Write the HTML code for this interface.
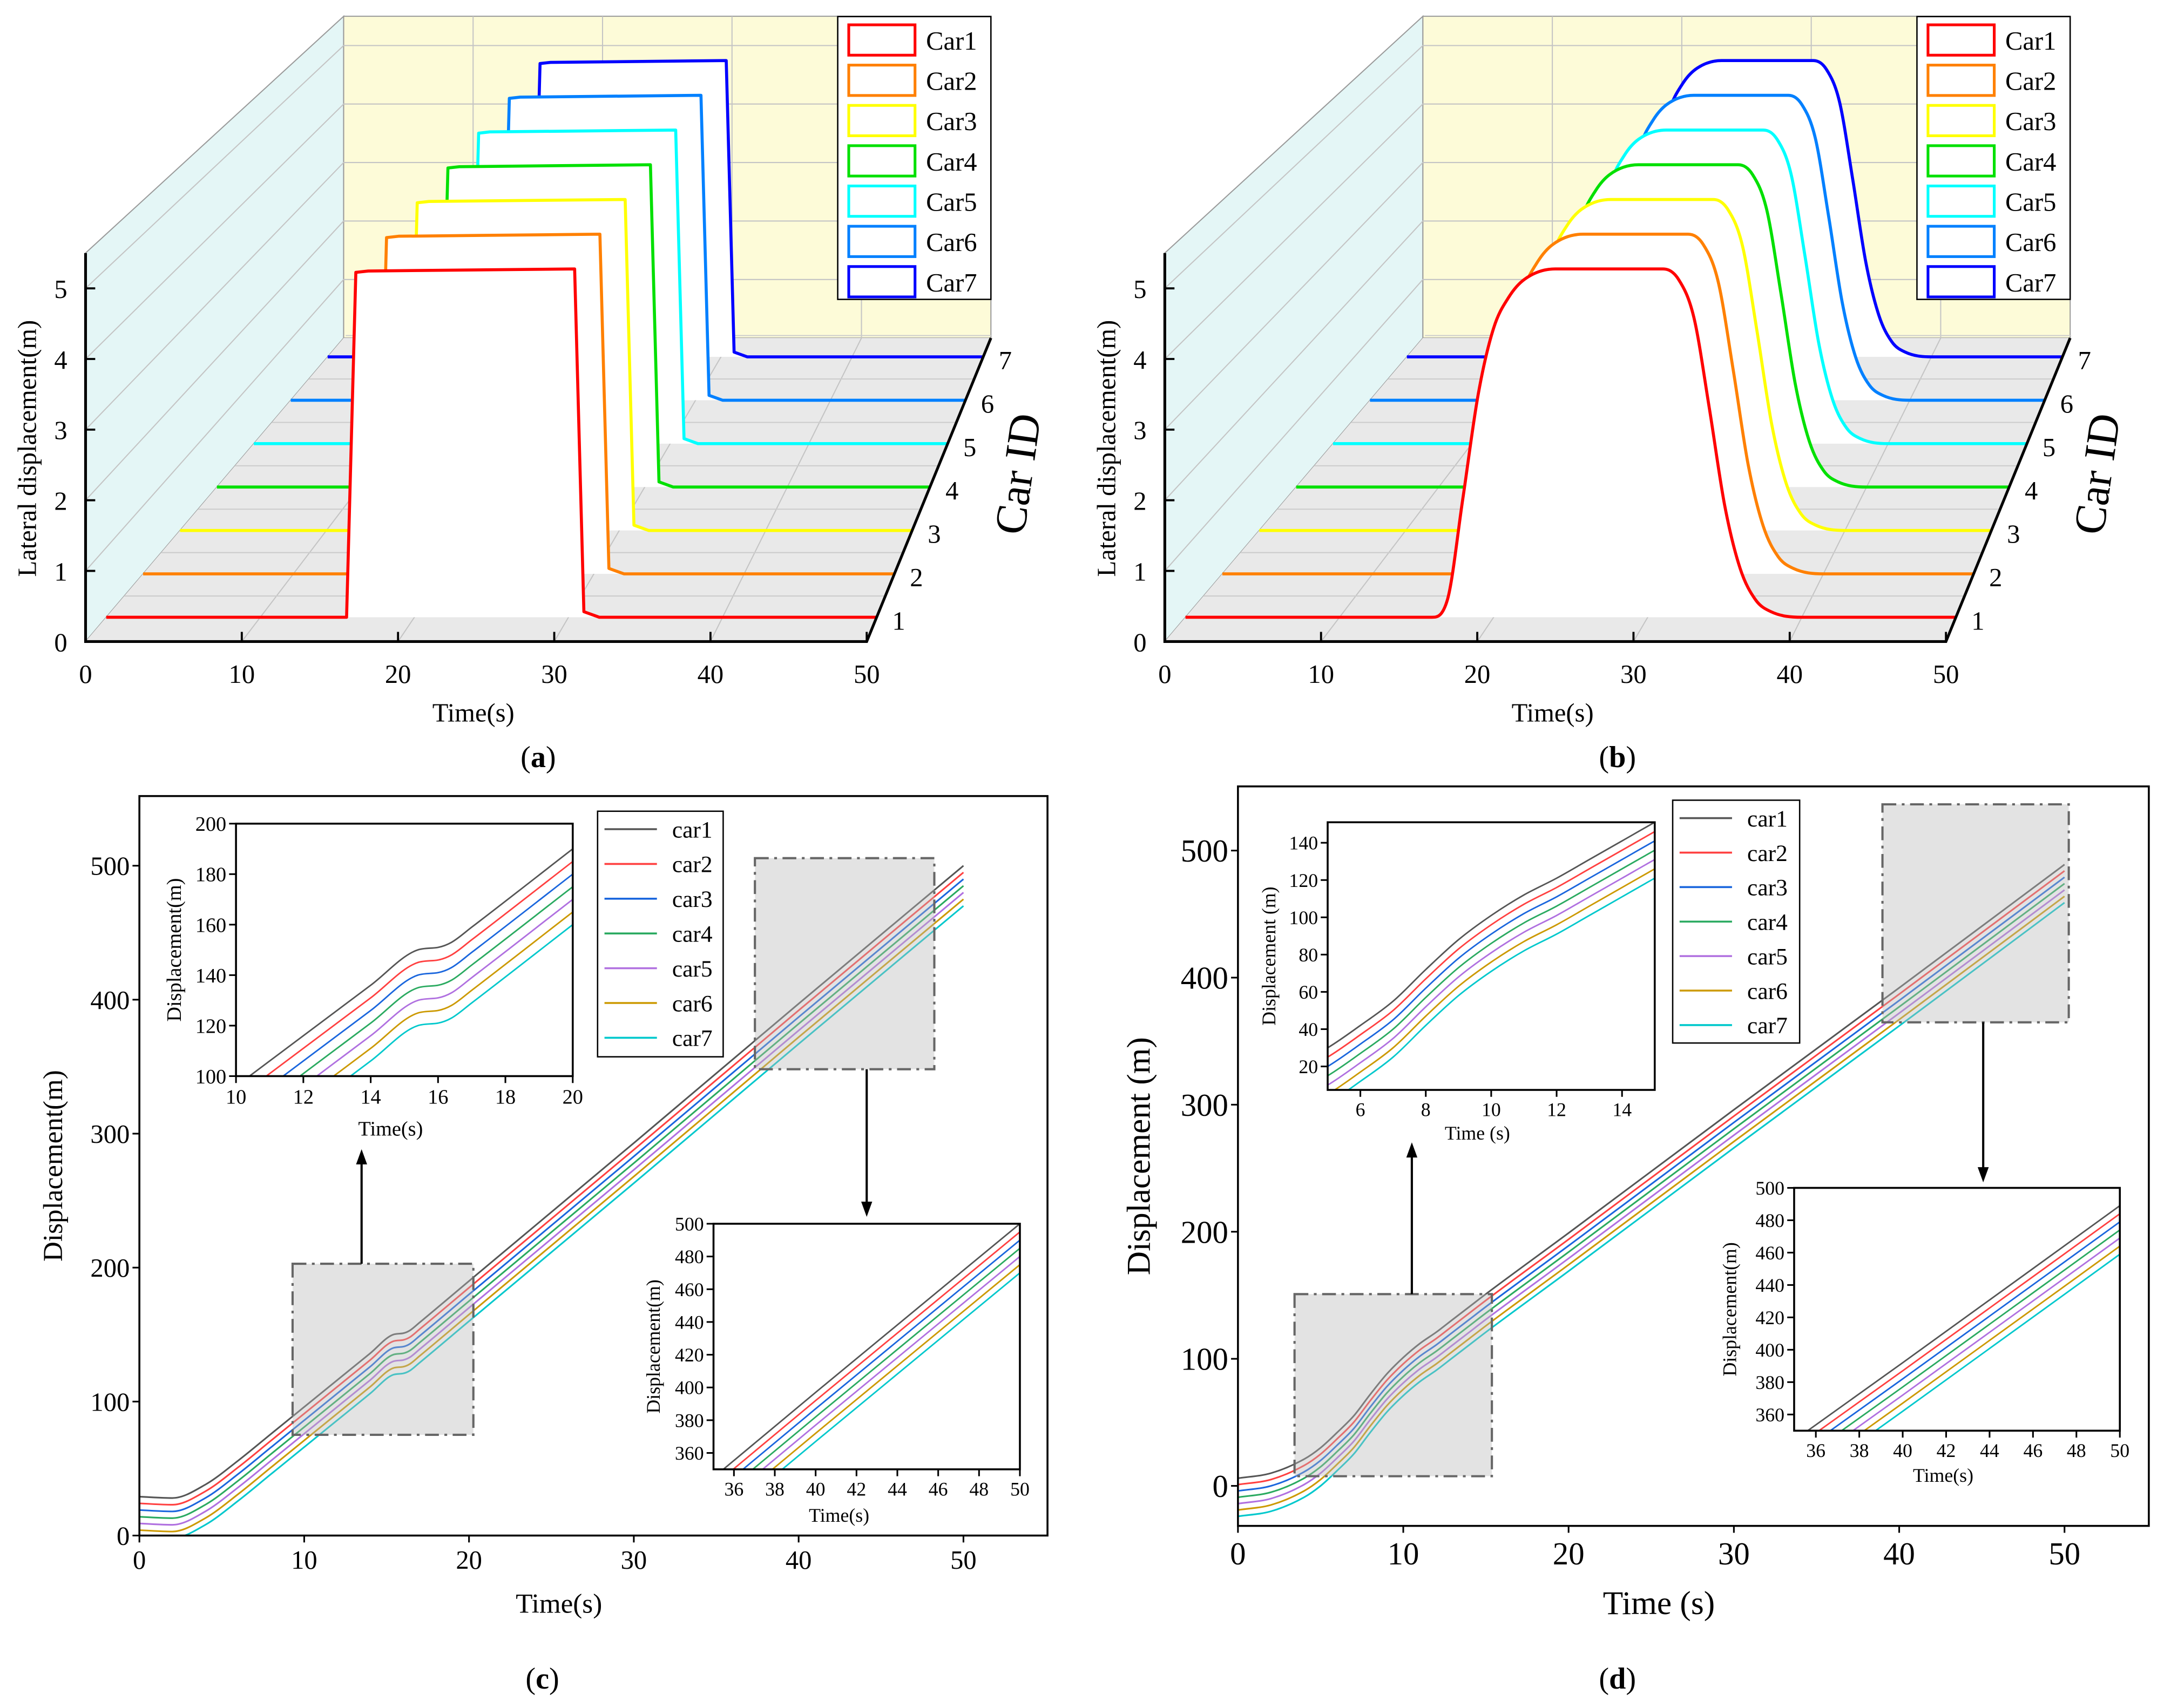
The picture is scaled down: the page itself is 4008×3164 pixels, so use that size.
<!DOCTYPE html>
<html><head><meta charset="utf-8"><style>
html,body{margin:0;padding:0;background:#fff;overflow:hidden;width:4008px;height:3164px;}
svg{display:block;}
text{font-family:"Liberation Serif",serif;}
</style></head><body>
<svg id="chart" xmlns="http://www.w3.org/2000/svg" width="4008" height="3164" viewBox="0 0 1568 1238" preserveAspectRatio="none">
<rect x="0" y="0" width="1568" height="1238" fill="#fff"/>
</svg>
<script>
// ---------- DATA ----------
const carIds = [1,2,3,4,5,6,7];
const carNamesUpper = ['Car1','Car2','Car3','Car4','Car5','Car6','Car7'];
const carNamesLower = ['car1','car2','car3','car4','car5','car6','car7'];
const timeTicks3D = [0,10,20,30,40,50];
const zTicks3D = [0,1,2,3,4,5];
// panel (a) lateral displacement (step manoeuvre)
const tA = [0,15.6,16.2,17,30.4,31.0,32,50];
const zA = [0,0,4.95,4.97,5.0,0.08,0,0];
// panel (b) lateral displacement (smooth manoeuvre)
const tB = [0,16,17,18,19,20,21,22,24,31,32,33,34,35,36,37,38,40,50];
const zB = [0,0,0.25,1.7,3.2,4.15,4.6,4.85,5.0,5.0,4.85,4.3,3.0,1.6,0.7,0.25,0.08,0,0];
// panel (c) longitudinal displacement
const tC = [0,2,4,6,8,10,12,14,15.4,16,16.4,17,20,30,40,50];
const c1 = [29,28,38,56,76,96,116,136,150,151,153,159,190,293,397,500];
const c2 = [24,23,33,51,71,91,111,131,145,146,148,154,185,288,392,495];
const c3 = [19,18,28,46,66,86,106,126,140,141,143,149,180,283,387,490];
const c4 = [14,13,23,41,61,81,101,121,135,136,138,144,175,278,382,485];
const c5 = [9,8,18,36,56,76,96,116,130,131,133,139,170,273,377,480];
const c6 = [4,3,13,31,51,71,91,111,125,126,128,134,165,268,372,475];
const c7 = [-1,-2,8,26,46,66,86,106,120,121,123,129,160,263,367,470];
const seriesC = [c1,c2,c3,c4,c5,c6,c7];
// panel (d) longitudinal displacement
const tD = [0,2,4,5,6,7,8,9,10,11,12,13,14,15,20,30,40,50];
const d1 = [6,10,21,30,42,55,72,88,101,112,121,131,141,151,199,296,392,489];
const d2 = [1,5,16,25,37,50,67,83,96,107,116,126,136,146,194,291,387,484];
const d3 = [-4,0,11,20,32,45,62,78,91,102,111,121,131,141,189,286,382,479];
const d4 = [-9,-5,6,15,27,40,57,73,86,97,106,116,126,136,184,281,377,474];
const d5 = [-14,-10,1,10,22,35,52,68,81,92,101,111,121,131,179,276,372,469];
const d6 = [-19,-15,-4,5,17,30,47,63,76,87,96,106,116,126,174,271,367,464];
const d7 = [-24,-20,-9,0,12,25,42,58,71,82,91,101,111,121,169,266,362,459];
const seriesD = [d1,d2,d3,d4,d5,d6,d7];
const ticksMainX = [0,10,20,30,40,50];
const ticksMainY = [0,100,200,300,400,500];
const ticksInsetC1X = [10,12,14,16,18,20];
const ticksInsetC1Y = [100,120,140,160,180,200];
const ticksInsetEndX = [36,38,40,42,44,46,48,50];
const ticksInsetEndY = [360,380,400,420,440,460,480,500];
const ticksInsetD1X = [6,8,10,12,14];
const ticksInsetD1Y = [20,40,60,80,100,120,140];

const colors3D = ['#ff0000','#ff8000','#ffff00','#00e000','#00ffff','#0080ff','#0000ff'];
const colors2D = ['#555555','#ff4040','#1a66dd','#2aaa60','#b070e0','#cc9900','#00c8cc'];

// ---------- HELPERS ----------
const NS='http://www.w3.org/2000/svg';
const svg=document.getElementById('chart');
function mk(tag, attrs, parent){const e=document.createElementNS(NS,tag);for(const k in attrs)e.setAttribute(k,attrs[k]);(parent||svg).appendChild(e);return e;}
function txt(s,x,y,size,parent,extra){const e=mk('text',Object.assign({x:x,y:y,'font-size':size,'text-anchor':'middle',fill:'#000'},extra||{}),parent);e.textContent=s;return e;}
function smooth(p){
  const n=p.length;const m=[],t=[];
  for(let i=0;i<n-1;i++){const dx=p[i+1][0]-p[i][0];m.push(dx===0?0:(p[i+1][1]-p[i][1])/dx);}
  t[0]=m[0];t[n-1]=m[n-2];
  for(let i=1;i<n-1;i++){t[i]=(m[i-1]*m[i]<=0)?0:(m[i-1]+m[i])/2;}
  for(let i=0;i<n-1;i++){
    if(m[i]===0){t[i]=0;t[i+1]=0;continue;}
    const a=t[i]/m[i],b=t[i+1]/m[i],s=a*a+b*b;
    if(s>9){const k=3/Math.sqrt(s);t[i]=k*a*m[i];t[i+1]=k*b*m[i];}
  }
  let d='M'+p[0][0].toFixed(2)+','+p[0][1].toFixed(2);
  for(let i=0;i<n-1;i++){
    const dx=(p[i+1][0]-p[i][0])/3;
    d+=' C'+(p[i][0]+dx).toFixed(2)+','+(p[i][1]+t[i]*dx).toFixed(2)+' '+(p[i+1][0]-dx).toFixed(2)+','+(p[i+1][1]-t[i+1]*dx).toFixed(2)+' '+p[i+1][0].toFixed(2)+','+p[i+1][1].toFixed(2);
  }
  return d;
}
function poly(p){return 'M'+p.map(q=>q[0].toFixed(2)+','+q[1].toFixed(2)).join(' L');}

// ---------- 3D PANELS ----------
function depthOf(id){return 0.08+(id-1)*0.143;}
function draw3D(ox, times, zs, isSmooth, tag){
  const g=mk('g',{});
  
  
  const P=(t,d,z)=>{const x0=62+187*d+ox,w=566-97*d,s=51.2-8.8*d,yb=465-220*d;return [x0+t/50*w,yb-z*s];};
  const lw=mk('path',{d:poly([P(0,0,0),P(0,0,5.5),P(0,1,5.5),P(0,1,0)])+'Z',fill:'#e4f6f6',stroke:'#9a9a9a','stroke-width':0.8},g);
  
  
  const bw=mk('path',{d:poly([P(0,1,0),P(0,1,5.5),P(50,1,5.5),P(50,1,0)])+'Z',fill:'#fdfbd8',stroke:'#9a9a9a','stroke-width':0.8},g);
  
  
  const fl=mk('path',{d:poly([P(0,0,0),P(50,0,0),P(50,1,0),P(0,1,0)])+'Z',fill:'#e9e9e9'},g);
  
  
  for(const t of timeTicks3D.slice(1,5)){
    const l=mk('path',{d:poly([P(t,0,0),P(t,1,0),P(t,1,5.5)]),fill:'none',stroke:'#c4c4c4','stroke-width':0.8},g);
    
    
  }
  for(const z of zTicks3D.slice(1)){
    const l=mk('path',{d:poly([P(0,0,z),P(0,1,z),P(50,1,z)]),fill:'none',stroke:'#c4c4c4','stroke-width':0.8},g);
    
    
  }
  for(const id of carIds){
    const d=depthOf(id)+0.07;
    const l=mk('path',{d:poly([P(0,d,0),P(50,d,0)]),fill:'none',stroke:'#cccccc','stroke-width':0.8},g);
    
    
  }
  for(let i=carIds.length-1;i>=0;i--){
    const d=depthOf(carIds[i]);
    const pts=times.map((t,j)=>P(t,d,zs[j]));
    const path=isSmooth?smooth(pts):poly(pts);
    const end=P(50,d,0),st=P(0,d,0);
    const f=mk('path',{d:path+' L'+end[0]+','+end[1]+' L'+st[0]+','+st[1]+'Z',fill:'#fff',stroke:'none'},g);
    
    
    const s=mk('path',{d:path,fill:'none',stroke:colors3D[i],'stroke-width':2.2,'stroke-linejoin':'round'},g);
    
    
  }
  const ax=mk('path',{d:poly([P(0,0,5.5),P(0,0,0),P(50,0,0),P(50,1,0)]),fill:'none',stroke:'#000','stroke-width':2},g);
  
  
  for(const t of timeTicks3D){
    const p=P(t,0,0);
    const tk=mk('line',{x1:p[0],y1:p[1],x2:p[0],y2:p[1]-7,stroke:'#000','stroke-width':1.5},g);
    
    
    const lb=txt(String(t),p[0],p[1]+30,19,g);
    
    
  }
  for(const z of zTicks3D){
    const p=P(0,0,z);
    const tk=mk('line',{x1:p[0],y1:p[1],x2:p[0]+7,y2:p[1],stroke:'#000','stroke-width':1.5},g);
    
    
    const lb=txt(String(z),p[0]-18,p[1]+7,19,g);
    
    
  }
  for(const id of carIds){
    const p=P(50,depthOf(id),0);
    const lb=txt(String(id),p[0]+16,p[1]+9,19,g);
    
    
  }
  const yl=txt('Lateral displacement(m)',0,0,19,g,{transform:'translate('+(26+ox)+',325) rotate(-90)'});
  
  
  const xl=txt('Time(s)',343+ox,523,19,g);
  
  
  const cl=txt('Car ID',0,0,32,g,{transform:'translate('+(748+ox)+',345) rotate(-82)'});
  
  
  const lg=mk('g',{},g);
  
  
  const lb=mk('rect',{x:607+ox,y:12,width:111,height:205,fill:'#fff',stroke:'#000','stroke-width':1},lg);
  
  
  carNamesUpper.forEach((n,i)=>{
    const y=29+i*29.2;
    const r=mk('rect',{x:615+ox,y:y-11,width:48,height:22,fill:'#fff',stroke:colors3D[i],'stroke-width':2},lg);
    
    
    const t=txt(n,671+ox,y+7,19,lg,{'text-anchor':'start'});
    
    
  });
}
draw3D(0,tA,zA,false,'a');
draw3D(782,tB,zB,true,'b');

// ---------- 2D PANELS ----------
let clipN=0;
function plot2D(o){
  const g=mk('g',{});
  
  
  const sx=v=>o.x0+(v-o.xmin)/(o.xmax-o.xmin)*(o.x1-o.x0);
  const sy=v=>o.y1-(v-o.ymin)/(o.ymax-o.ymin)*(o.y1-o.y0);
  const bg=mk('rect',{x:o.x0,y:o.y0,width:o.x1-o.x0,height:o.y1-o.y0,fill:'#fff'},g);
  
  
  const id='clip'+(clipN++);
  const cp=mk('clipPath',{id:id},g);
  mk('rect',{x:o.x0,y:o.y0,width:o.x1-o.x0,height:o.y1-o.y0},cp);
  const sg=mk('g',{'clip-path':'url(#'+id+')'},g);
  o.series.forEach((arr,i)=>{
    const p=mk('path',{d:smooth(o.times.map((t,j)=>[sx(t),sy(arr[j])])),fill:'none',stroke:colors2D[i],'stroke-width':o.lw||1.2},sg);
    
    
  });
  const fr=mk('rect',{x:o.x0,y:o.y0,width:o.x1-o.x0,height:o.y1-o.y0,fill:'none',stroke:'#000','stroke-width':1.4},g);
  
  
  for(const t of o.xt){
    const tk=mk('line',{x1:sx(t),y1:o.y1,x2:sx(t),y2:o.y1+5,stroke:'#000','stroke-width':1.2},g);
    
    
    const lb=txt(String(t),sx(t),o.y1+o.fs+5,o.fs,g);
    
    
  }
  for(const v of o.yt){
    const tk=mk('line',{x1:o.x0-5,y1:sy(v),x2:o.x0,y2:sy(v),stroke:'#000','stroke-width':1.2},g);
    
    
    const lb=txt(String(v),o.x0-7,sy(v)+o.fs*0.35,o.fs,g,{'text-anchor':'end'});
    
    
  }
  const xl=txt(o.xtitle,(o.x0+o.x1)/2+(o.xtOff||0),o.ttY,o.tsize,g);
  
  
  const yl=txt(o.ytitle,0,0,o.tsize,g,{transform:'translate('+o.ytitleX+','+((o.y0+o.y1)/2)+') rotate(-90)'});
  
  
  return g;
}
function zoomBox(x,y,w,h,ax,ay1,ay2,name){
  const r=mk('rect',{x:x,y:y,width:w,height:h,fill:'#b8b8b8','fill-opacity':0.4,stroke:'#666','stroke-width':1.6,'stroke-dasharray':'10,4,2,4'});
  
  
  const dir=ay2<ay1?-1:1;
  const a=mk('path',{d:'M'+ax+','+ay1+' L'+ax+','+(ay2-dir*8),stroke:'#000','stroke-width':1.6,fill:'none'});
  
  
  const h2=mk('path',{d:'M'+ax+','+ay2+' L'+(ax-4)+','+(ay2-dir*11)+' L'+(ax+4)+','+(ay2-dir*11)+'Z',fill:'#000'});
  
  
}
function legend2D(x,y,w,h,step,name){
  const g=mk('g',{});
  
  
  const b=mk('rect',{x:x,y:y,width:w,height:h,fill:'#fff',stroke:'#000','stroke-width':1},g);
  
  
  carNamesLower.forEach((n,i)=>{
    const yy=y+13+i*step;
    const l=mk('line',{x1:x+5,y1:yy,x2:x+43,y2:yy,stroke:colors2D[i],'stroke-width':1.4},g);
    
    
    const t=txt(n,x+54,yy+6,17,g,{'text-anchor':'start'});
    
    
  });
}

// panel c
plot2D({name:'panel-c-main',x0:101,x1:759,y0:577,y1:1113,xmin:0,xmax:55.1,ymin:0,ymax:552,times:tC,series:seriesC,xt:ticksMainX,yt:ticksMainY,fs:19,xtitle:'Time(s)',ytitle:'Displacement(m)',tsize:20,ttY:1169,ytitleX:45,xtOff:-25});
zoomBox(212,916,131,124,262,916,833,'zoom-region-c1');
zoomBox(547,622,130,153,628,775,882,'zoom-region-c2');
plot2D({name:'panel-c-inset-early',x0:171,x1:415,y0:597,y1:780,xmin:10,xmax:20,ymin:100,ymax:200,times:tC,series:seriesC,xt:ticksInsetC1X,yt:ticksInsetC1Y,fs:15,xtitle:'Time(s)',ytitle:'Displacement(m)',tsize:15,ttY:823,ytitleX:131,xtOff:-10,lw:1.1});
plot2D({name:'panel-c-inset-late',x0:517,x1:739,y0:887,y1:1065,xmin:35,xmax:50,ymin:350,ymax:500,times:tC,series:seriesC,xt:ticksInsetEndX,yt:ticksInsetEndY,fs:14,xtitle:'Time(s)',ytitle:'Displacement(m)',tsize:14,ttY:1103,ytitleX:478,xtOff:-20,lw:1.1});
legend2D(433,588,91,178,25.2,'legend-c');

// panel d
plot2D({name:'panel-d-main',x0:897,x1:1557,y0:570,y1:1106,xmin:0,xmax:55.1,ymin:-31.5,ymax:550.5,times:tD,series:seriesD,xt:ticksMainX,yt:ticksMainY,fs:23,xtitle:'Time (s)',ytitle:'Displacement (m)',tsize:24,ttY:1170,ytitleX:833,xtOff:-25});
zoomBox(938,938,143,132,1023,938,828,'zoom-region-d1');
zoomBox(1364,583,135,158,1437,741,857,'zoom-region-d2');
plot2D({name:'panel-d-inset-early',x0:962,x1:1199,y0:596,y1:790,xmin:5,xmax:15,ymin:7.4,ymax:151,times:tD,series:seriesD,xt:ticksInsetD1X,yt:ticksInsetD1Y,fs:14,xtitle:'Time (s)',ytitle:'Displacement (m)',tsize:14,ttY:826,ytitleX:924,xtOff:-10,lw:1.1});
plot2D({name:'panel-d-inset-late',x0:1300,x1:1536,y0:861,y1:1037,xmin:35,xmax:50,ymin:350,ymax:500,times:tD,series:seriesD,xt:ticksInsetEndX,yt:ticksInsetEndY,fs:14,xtitle:'Time(s)',ytitle:'Displacement(m)',tsize:14,ttY:1074,ytitleX:1258,xtOff:-10,lw:1.1});
legend2D(1212,580,92,176,25,'legend-d');

// panel labels
[['a',390,556],['b',1172,556],['c',393,1224],['d',1172,1224]].forEach(p=>{
  const t=mk('text',{x:p[1],y:p[2],'font-size':22,'text-anchor':'middle'});
  
  
  t.appendChild(document.createTextNode('('));
  const b=mk('tspan',{'font-weight':'bold'},t);b.textContent=p[0];
  t.appendChild(document.createTextNode(')'));
});
</script>
</body></html>
